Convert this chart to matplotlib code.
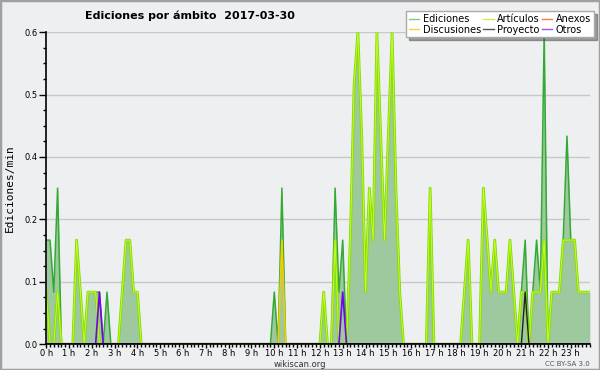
import numpy as np
import matplotlib
matplotlib.use('Agg')
import matplotlib.pyplot as plt
from matplotlib.lines import Line2D
from matplotlib.patches import Rectangle

# edits per minute, 10-minute bins, one row per hour (00:00 .. 23:50)
ediciones = [
    0.2, 0.2, 0.1, 0.3, 0, 0,
    0, 0, 0.2, 0.1, 0, 0.1,
    0.1, 0.1, 0.1, 0, 0.1, 0,
    0, 0, 0.1, 0.2, 0.2, 0.1,
    0.1, 0, 0, 0, 0, 0,
    0, 0, 0, 0, 0, 0,
    0, 0, 0, 0, 0, 0,
    0, 0, 0, 0, 0, 0,
    0, 0, 0, 0, 0, 0,
    0, 0, 0, 0, 0, 0,
    0.1, 0, 0.3, 0, 0, 0,
    0, 0, 0, 0, 0, 0,
    0, 0.1, 0, 0, 0.3, 0.1,
    0.2, 0, 0.2, 0.5, 0.6, 0.4,
    0.1, 0.3, 0.2, 0.6, 0.4, 0.2,
    0.4, 0.6, 0.3, 0.1, 0, 0,
    0, 0, 0, 0, 0, 0.3,
    0, 0, 0, 0, 0, 0,
    0, 0, 0.1, 0.2, 0, 0,
    0, 0.3, 0.2, 0.1, 0.2, 0.1,
    0.1, 0.1, 0.2, 0.1, 0, 0.1,
    0.2, 0, 0.1, 0.2, 0.1, 0.6,
    0, 0.1, 0.1, 0.1, 0.2, 0.4,
    0.2, 0.2, 0.1, 0.1, 0.1, 0.1,
]
articulos = [
    0.1, 0, 0, 0.1, 0, 0,
    0, 0, 0.2, 0.1, 0, 0.1,
    0.1, 0.1, 0, 0, 0, 0,
    0, 0, 0.1, 0.2, 0.2, 0.1,
    0.1, 0, 0, 0, 0, 0,
    0, 0, 0, 0, 0, 0,
    0, 0, 0, 0, 0, 0,
    0, 0, 0, 0, 0, 0,
    0, 0, 0, 0, 0, 0,
    0, 0, 0, 0, 0, 0,
    0, 0, 0, 0, 0, 0,
    0, 0, 0, 0, 0, 0,
    0, 0.1, 0, 0, 0.2, 0,
    0, 0, 0.2, 0.5, 0.6, 0.4,
    0.1, 0.3, 0.2, 0.6, 0.4, 0.2,
    0.4, 0.6, 0.3, 0.1, 0, 0,
    0, 0, 0, 0, 0, 0.3,
    0, 0, 0, 0, 0, 0,
    0, 0, 0.1, 0.2, 0, 0,
    0, 0.3, 0.2, 0.1, 0.2, 0.1,
    0.1, 0.1, 0.2, 0.1, 0, 0.1,
    0.1, 0, 0.1, 0.1, 0.1, 0.2,
    0, 0.1, 0.1, 0.1, 0.2, 0.2,
    0.2, 0.2, 0.1, 0.1, 0.1, 0.1,
]
# sparse series: {bin index: value}
discusiones = {62: 0.2}
proyecto = {126: 0.1}
anexos = {}
otros = {14: 0.1, 78: 0.1}

hour_labels = ['%d h' % h for h in range(24)]
legend_names = ['Ediciones', 'Discusiones', 'Artículos', 'Proyecto', 'Anexos', 'Otros']
legend_colors = ['#80cc80', '#ffcc44', '#ccee55', '#555555', '#ff7744', '#9955ee']

n = len(ediciones)
t = np.arange(n) / 6.0


def dense(d):
    v = np.zeros(n)
    for k, val in d.items():
        v[k] = val
    return v


bg = '#eeeff1'
fig = plt.figure(figsize=(6, 3.7), dpi=100, facecolor=bg)
ax = fig.add_axes([0.077, 0.07, 0.906, 0.843], facecolor=bg)

ax.fill_between(t, 0, ediciones, color='#9ec99e', lw=0, zorder=1)
ax.plot(t, ediciones, color='#33aa33', lw=1.1, zorder=2)
ax.plot(t, articulos, color='#88dd11', lw=2.0, zorder=3)
ax.plot(t, articulos, color='#ccff22', lw=0.6, zorder=3)
ax.plot(t, dense(anexos), color='#ff6633', lw=1.0, zorder=4)
ax.plot(t, dense(discusiones), color='#f2cc00', lw=1.2, zorder=4)
ax.plot(t, dense(proyecto), color='#222222', lw=1.0, zorder=4)
ax.plot(t, dense(otros), color='#7700ee', lw=1.2, zorder=4)

ax.set_xlim(0, t[-1])
ax.set_ylim(0, 0.6)
ax.set_xticks(range(24))
ax.set_xticklabels(hour_labels)
ax.set_xticks(np.arange(0, t[-1] + 0.01, 1 / 6.0), minor=True)
yt = np.arange(0, 0.601, 0.12)
ax.set_yticks(yt)
ax.set_yticklabels(['%.1f' % v for v in yt])
ax.set_yticks(np.arange(0, 0.601, 0.03), minor=True)
ax.tick_params(axis='both', which='major', labelsize=6, width=1, pad=1)
ax.tick_params(axis='y', which='major', length=5)
ax.tick_params(axis='x', which='major', length=3, pad=0.5)
ax.tick_params(axis='both', which='minor', length=2.5, width=1)
ax.grid(axis='y', which='major', color='#c8c8c8', lw=1)
ax.set_axisbelow(True)
for s in ['top', 'right']:
    ax.spines[s].set_visible(False)
for s in ['left', 'bottom']:
    ax.spines[s].set_linewidth(1.2)
    ax.spines[s].set_zorder(6)

ax.set_ylabel('Ediciones/min', fontsize=8, family='DejaVu Sans Mono')
ax.yaxis.set_label_coords(-0.058, 0.5)

fig.text(0.142, 0.957, 'Ediciones por ámbito  2017-03-30', fontsize=8,
         fontweight='bold', va='center', ha='left')
fig.text(0.5, 0.016, 'wikiscan.org', fontsize=6, color='#333333', ha='center', va='center')
fig.text(0.983, 0.016, 'CC BY-SA 3.0', fontsize=5, color='#555555', ha='right', va='center')

handles = [Line2D([], [], color=c, lw=1) for c in legend_colors]
leg = fig.legend(handles, legend_names, ncol=3, loc='upper right',
                 bbox_to_anchor=(0.99, 0.97), fontsize=7, frameon=True,
                 fancybox=False, shadow=True, handlelength=1.1, handletextpad=0.35,
                 columnspacing=0.2, labelspacing=0.05, borderpad=0.3, borderaxespad=0)
leg.get_frame().set_edgecolor('#aaaaaa')
leg.get_frame().set_facecolor('white')
leg.get_frame().set_alpha(1)

fig.patches.append(Rectangle((0, 0), 1, 1, transform=fig.transFigure, fill=False,
                             edgecolor='#a0a0a0', lw=2.5))

fig.savefig('out.png', dpi=100, facecolor=bg)
